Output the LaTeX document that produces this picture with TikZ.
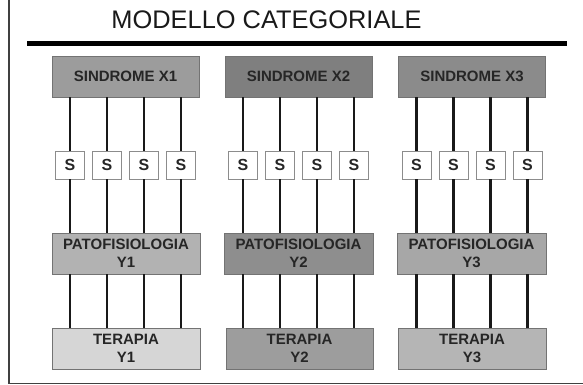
\documentclass[tikz,border=0pt]{standalone}
\usepackage{fontspec}
\setmainfont{Liberation Sans}
\definecolor{gX1}{HTML}{9C9C9C}
\definecolor{gX2}{HTML}{7F7F7F}
\definecolor{gX3}{HTML}{8B8B8B}
\definecolor{gP1}{HTML}{B2B2B2}
\definecolor{gP2}{HTML}{8E8E8E}
\definecolor{gP3}{HTML}{A7A7A7}
\definecolor{gT1}{HTML}{D6D6D6}
\definecolor{gT2}{HTML}{9D9D9D}
\definecolor{gT3}{HTML}{B5B5B5}
\begin{document}
\begin{tikzpicture}[x=1pt,y=-1pt,
  box/.style={draw=black!55, line width=0.6pt, minimum width=147pt, minimum height=41pt,
    inner sep=0pt, align=center, font=\bfseries\fontsize{15}{18}\selectfont, text=black!85},
  sbox/.style={draw=black!45, fill=white, line width=0.6pt, minimum width=29pt,
    minimum height=28pt, inner sep=0pt, font=\bfseries\fontsize{16}{18}\selectfont, text=black!85},
  link/.style={line width=2.6pt, black!90}]
\useasboundingbox (0,0) rectangle (583,384);
\draw[line width=1.2pt, black!75] (9,0) -- (9,383.3) -- (583,383.3);
\node[font=\fontsize{25.4}{30}\selectfont, text=black!90] (title) at (266.5,20) {MODELLO CATEGORIALE};
\draw[line width=5pt] (27,43) -- (567,43);
% syndromes
\node[box, fill=gX1] (sx1) at (125.5,76.5) {SINDROME X1};
\node[box, fill=gX2] (sx2) at (298.5,76.5) {SINDROME X2};
\node[box, fill=gX3] (sx3) at (472,76.5) {SINDROME X3};
% pathophysiology
\node[box, fill=gP1, minimum width=148pt] (p1) at (126,253.5) {PATOFISIOLOGIA\\Y1};
\node[box, fill=gP2, minimum width=149pt] (p2) at (298.5,253.5) {PATOFISIOLOGIA\\Y2};
\node[box, fill=gP3, minimum width=149pt] (p3) at (471.5,253.5) {PATOFISIOLOGIA\\Y3};
% therapy
\node[box, fill=gT1, minimum width=148pt] (t1) at (126,348.5) {TERAPIA\\Y1};
\node[box, fill=gT2] (t2) at (299.5,348.5) {TERAPIA\\Y2};
\node[box, fill=gT3, minimum width=148pt] (t3) at (472,348.5) {TERAPIA\\Y3};
\foreach \g/\c in {1/125.5, 2/298.5, 3/472} {
  \foreach \k/\o in {1/-55.5, 2/-18.5, 3/18.5, 4/55.5} {
    \node[sbox] (s\g\k) at (\c+\o,165) {S};
    \draw[link] (sx\g.south -| s\g\k) -- (s\g\k.north);
    \draw[link] (s\g\k.south) -- (s\g\k |- p\g.north);
    \draw[link] (s\g\k |- p\g.south) -- (s\g\k |- t\g.north);
  }
}
\end{tikzpicture}
\end{document}
